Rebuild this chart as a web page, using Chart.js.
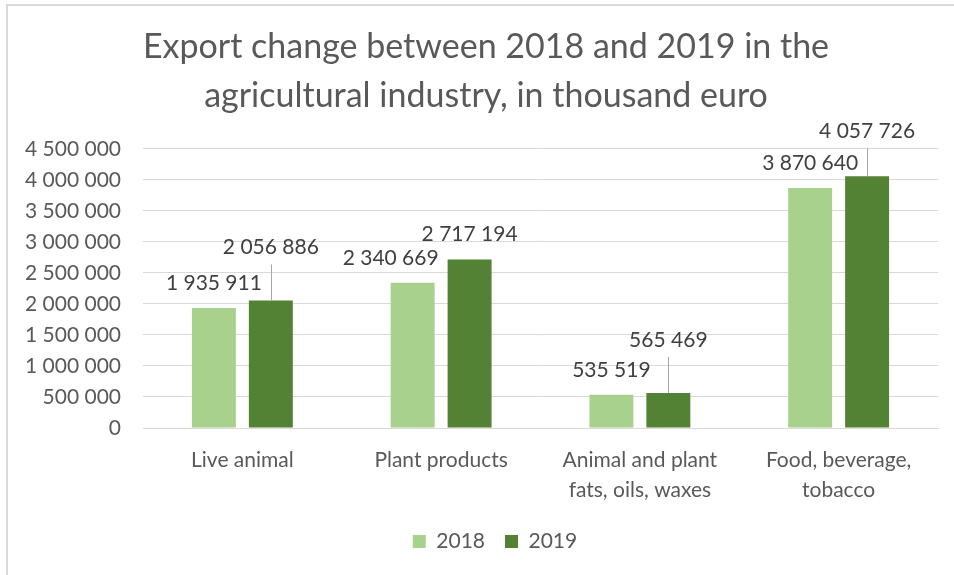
<!DOCTYPE html>
<html>
<head>
<meta charset="utf-8">
<script src="https://cdn.jsdelivr.net/npm/chart.js@4"></script>
<style>
    body { margin: 0; background: #fff; }
    #wrap { position: relative; width: 954px; height: 575px; }
    #frame { position: absolute; left: 6px; top: 4px; right: 0; bottom: 0; border-left: 2px solid #d9d9d9; border-top: 2px solid #d9d9d9; pointer-events: none; }
    canvas { position: absolute; left: 0; top: 0; }
</style>
</head>
<body>
<div id="wrap">
    <canvas id="exportChart" width="954" height="575"></canvas>
    <div id="frame"></div>
</div>
<script>
// Export change data (thousand euro)
const categories = [
    'Live animal',
    'Plant products',
    ['Animal and plant', 'fats, oils, waxes'],
    ['Food, beverage,', 'tobacco']
];
const seriesNames = ['2018', '2019'];
const values2018 = [1935911, 2340669, 535519, 3870640];
const values2019 = [2056886, 2717194, 565469, 4057726];
const yTicks = [0, 500000, 1000000, 1500000, 2000000, 2500000, 3000000, 3500000, 4000000, 4500000];

const FONT = "'Lato', 'Open Sans', sans-serif";

// 4 500 000 style numbers
function formatNumber(v) {
    return String(Math.round(v)).replace(/\B(?=(\d{3})+(?!\d))/g, ' ');
}

// Data labels above bars, some lifted with a leader line (like Excel)
const barLabels = {
    id: 'barLabels',
    afterDatasetsDraw(chart, args, opts) {
        const ctx = chart.ctx;
        ctx.save();
        ctx.font = `21px ${FONT}`;
        ctx.fillStyle = '#404040';
        ctx.textAlign = 'center';
        ctx.textBaseline = 'middle';
        chart.data.datasets.forEach((ds, di) => {
            const meta = chart.getDatasetMeta(di);
            meta.data.forEach((bar, i) => {
                const adj = (opts.adjust && opts.adjust[`${di}-${i}`]) || {};
                const x = bar.x + (adj.dx || 0);
                const y = bar.y - 25 - (adj.lift || 0);
                if (adj.lift) {
                    ctx.strokeStyle = '#a6a6a6';
                    ctx.lineWidth = 1;
                    ctx.beginPath();
                    ctx.moveTo(Math.round(bar.x) + 0.5, y + 17);
                    ctx.lineTo(Math.round(bar.x) + 0.5, bar.y);
                    ctx.stroke();
                }
                ctx.fillText(formatNumber(ds.data[i]), x, y);
            });
        });
        ctx.restore();
    }
};

// nudge title and legend a bit to the right, the way the original sits
const nudgeBlocks = {
    id: 'nudgeBlocks',
    afterLayout(chart) {
        if (chart.titleBlock) {
            chart.titleBlock.left += 13;
            chart.titleBlock.right += 13;
        }
        if (chart.legend) {
            chart.legend.left += 22;
            chart.legend.right += 22;
        }
    }
};

new Chart(document.getElementById('exportChart'), {
    type: 'bar',
    data: {
        labels: categories,
        datasets: [
            {
                label: seriesNames[0],
                data: values2018,
                backgroundColor: '#a9d18e'
            },
            {
                label: seriesNames[1],
                data: values2019,
                backgroundColor: '#548235'
            }
        ]
    },
    options: {
        responsive: false,
        animation: false,
        categoryPercentage: 0.573,
        barPercentage: 0.772,
        layout: {
            padding: { left: 8, right: 16, top: 0, bottom: 13 }
        },
        plugins: {
            title: {
                display: true,
                text: ['Export change between 2018 and 2019 in the', 'agricultural industry, in thousand euro'],
                color: '#595959',
                font: { family: FONT, size: 34, weight: 'normal', lineHeight: 1.44 },
                padding: { top: 23, bottom: 28 }
            },
            legend: {
                position: 'bottom',
                labels: {
                    color: '#595959',
                    font: { family: FONT, size: 21 },
                    boxWidth: 13,
                    boxHeight: 13,
                    padding: 20
                }
            },
            tooltip: { enabled: false },
            barLabels: {
                adjust: {
                    '1-0': { lift: 28 },
                    '0-1': { dx: -22 },
                    '1-2': { lift: 28 },
                    '1-3': { lift: 20 }
                }
            }
        },
        scales: {
            y: {
                min: 0,
                max: 4500000,
                afterFit: (scale) => { scale.width = 135; },
                afterBuildTicks: (scale) => { scale.ticks = yTicks.map(v => ({ value: v })); },
                ticks: {
                    color: '#595959',
                    font: { family: FONT, size: 21 },
                    padding: 22,
                    callback: (v) => formatNumber(v)
                },
                grid: { color: '#d9d9d9', lineWidth: 1, drawTicks: false },
                border: { display: false }
            },
            x: {
                afterFit: (scale) => { scale.height = 83; },
                ticks: {
                    color: '#595959',
                    font: { family: FONT, size: 21, lineHeight: 1.43 },
                    padding: 17,
                    maxRotation: 0
                },
                grid: { display: false, drawTicks: false },
                border: { color: '#d9d9d9', width: 1 }
            }
        }
    },
    plugins: [barLabels, nudgeBlocks]
});
</script>
</body>
</html>
